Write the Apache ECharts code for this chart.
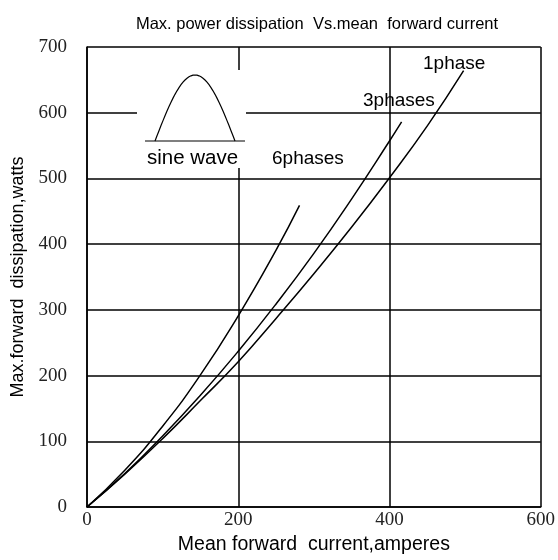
<!DOCTYPE html>
<html>
<head>
<meta charset="utf-8">
<script src="https://cdn.jsdelivr.net/npm/echarts@6/dist/echarts.min.js"></script>
<style>
  html, body { margin: 0; padding: 0; background: #fff; }
  #chart { width: 558px; height: 560px; }
</style>
</head>
<body>
<div id="chart"></div>
<script>
// values
var current1 = [0, 50, 100, 150, 200, 250, 300, 350, 400, 450, 498];
var power1   = [0, 50, 104, 162, 221, 287, 355, 426, 501, 580, 664];

var current3 = [0, 50, 100, 150, 200, 250, 300, 350, 400, 416];
var power3   = [0, 51, 108, 170, 237, 309, 386, 469, 557, 586];

var current6 = [0, 50, 100, 150, 200, 250, 281];
var power6   = [0, 56, 123, 201, 291, 391, 459];

var phaseNames = ['1phase', '3phases', '6phases'];

function pairs(xs, ys) {
    var out = [];
    for (var i = 0; i < xs.length; i++) {
        out.push([xs[i], ys[i]]);
    }
    return out;
}

// sine pulse for the little inset (x0..x1 base, peak height h)
function sinePath(x0, x1, yBase, h) {
    var pts = [];
    for (var i = 0; i <= 40; i++) {
        var t = i / 40;
        pts.push([x0 + (x1 - x0) * t, yBase - h * Math.sin(Math.PI * t)]);
    }
    return pts;
}

var sans = "'Liberation Sans', Arial, sans-serif";
var serif = "'Liberation Serif', 'Times New Roman', serif";

var chart = echarts.init(document.getElementById('chart'), null, { renderer: 'canvas' });

var curveStyle = { color: '#000', width: 1.5 };

var option = {
    backgroundColor: '#ffffff',
    animation: false,
    title: {
        text: 'Max. power dissipation  Vs.mean  forward current',
        left: 312,
        top: 11,
        textAlign: 'center',
        textStyle: {
            fontFamily: sans,
            fontSize: 16.5,
            fontWeight: 'normal',
            color: '#000'
        }
    },
    grid: { left: 87, right: 16, top: 47, bottom: 53 },
    xAxis: {
        type: 'value',
        min: 0, max: 600, interval: 200,
        name: 'Mean forward  current,amperes',
        nameLocation: 'middle',
        nameGap: 27,
        nameTextStyle: { fontFamily: sans, fontSize: 19.5, color: '#000' },
        axisLine: { show: true, lineStyle: { color: '#000', width: 1.5 } },
        axisTick: { show: false },
        axisLabel: { margin: 4, fontFamily: serif, fontSize: 19, color: '#222' },
        splitLine: { show: true, lineStyle: { color: '#000', width: 1.5 } }
    },
    yAxis: {
        type: 'value',
        min: 0, max: 700, interval: 100,
        name: 'Max.forward  dissipation,watts',
        nameLocation: 'middle',
        nameRotate: 90,
        nameGap: 60,
        nameTextStyle: { fontFamily: sans, fontSize: 18, color: '#000' },
        axisLine: { show: true, lineStyle: { color: '#000', width: 1.5 } },
        axisTick: { show: false },
        axisLabel: { margin: 20, fontFamily: serif, fontSize: 19, color: '#222' },
        splitLine: { show: true, lineStyle: { color: '#000', width: 1.5 } }
    },
    series: [
        { name: phaseNames[0], type: 'line', smooth: true, showSymbol: false, data: pairs(current1, power1), lineStyle: curveStyle, z: 5 },
        { name: phaseNames[1], type: 'line', smooth: true, showSymbol: false, data: pairs(current3, power3), lineStyle: curveStyle, z: 5 },
        { name: phaseNames[2], type: 'line', smooth: true, showSymbol: false, data: pairs(current6, power6), lineStyle: curveStyle, z: 5 }
    ],
    graphic: [
        // white box that breaks the grid behind the inset
        { type: 'rect', z: 100, shape: { x: 137, y: 70, width: 109, height: 98 }, style: { fill: '#fff' } },
        { type: 'line', z: 101, shape: { x1: 145, y1: 141, x2: 245, y2: 141 }, style: { stroke: '#000', lineWidth: 1.2 } },
        { type: 'polyline', z: 101, shape: { points: sinePath(155, 235, 141, 66) }, style: { stroke: '#000', lineWidth: 1.2, fill: null } },
        { type: 'text', z: 101, left: 147, top: 148, style: { text: 'sine wave', font: '20.5px ' + sans, fill: '#000' } },
        // curve labels
        { type: 'text', z: 101, left: 423, top: 54, style: { text: phaseNames[0], font: '19px ' + sans, fill: '#000' } },
        { type: 'text', z: 101, left: 363, top: 91, style: { text: phaseNames[1], font: '19px ' + sans, fill: '#000' } },
        { type: 'text', z: 101, left: 272, top: 149, style: { text: phaseNames[2], font: '19px ' + sans, fill: '#000' } }
    ]
};

chart.setOption(option);
</script>
</body>
</html>
